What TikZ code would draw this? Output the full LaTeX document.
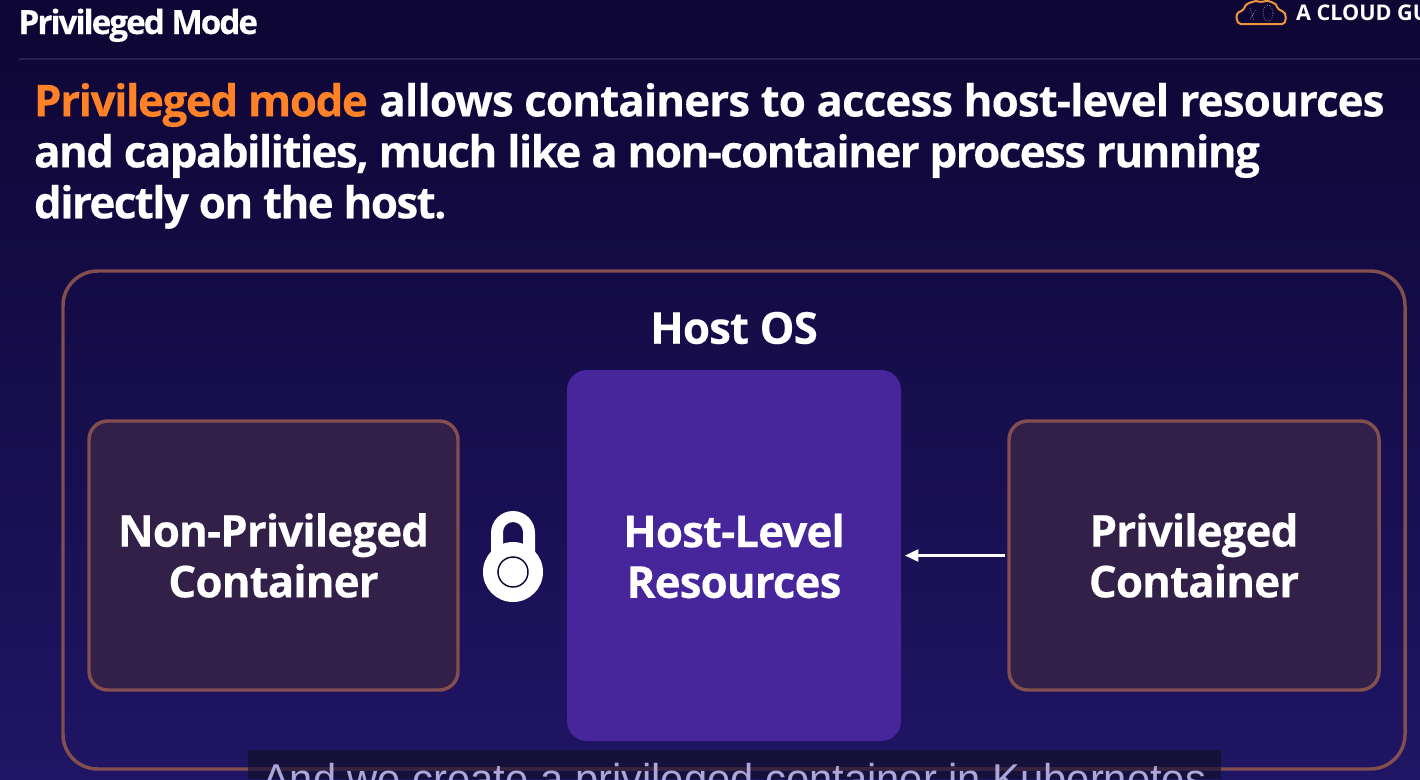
\documentclass[tikz,border=0pt]{standalone}
\usepackage{fontspec}
\setmainfont{Open Sans}
\newfontfamily\capfont{Liberation Sans}
\usetikzlibrary{arrows.meta,shapes.geometric}
\definecolor{bgtop}{RGB}{14,6,52}
\definecolor{bgbot}{RGB}{31,21,100}
\definecolor{edgebrown}{RGB}{130,78,78}
\definecolor{boxfill}{RGB}{50,32,72}
\definecolor{resfill}{RGB}{71,37,155}
\definecolor{orangetxt}{RGB}{255,130,40}
\definecolor{capbg}{RGB}{22,17,58}
\definecolor{captxt}{RGB}{172,166,218}
\definecolor{logoor}{RGB}{235,150,60}
\definecolor{rulec}{RGB}{40,32,84}
\newcommand{\tightbold}{\bfseries\addfontfeature{LetterSpace=-2.2,FakeBold=0.25}}
\newcommand{\hlsp}[2]{{\addfontfeature{LetterSpace=#1,FakeBold=0.25}#2}}
\tikzset{
  x=0.75pt,y=-0.75pt,
  every node/.style={outer sep=0pt},
  ctr/.style={rounded corners=14pt,draw=edgebrown,line width=2.6pt,fill=boxfill,anchor=north west,inner sep=0pt},
  lbl/.style={font=\fontsize{33}{38}\selectfont\tightbold,text=white,align=center},
  head/.style={font=\fontsize{33}{38.2}\selectfont\bfseries,text=white,align=left,anchor=north west,inner sep=0pt},
}
\begin{document}
\begin{tikzpicture}
\useasboundingbox (0,0) rectangle (1420,779);
\clip (0,0) rectangle (1420,779);
\shade[top color=bgtop,bottom color=bgbot] (0,0) rectangle (1420,779);
\fill[bgtop] (0,0) rectangle (1420,58);
\draw[rulec,line width=1.5pt] (19,59) -- (1420,59);
\node[anchor=base west,inner sep=0pt,text=white,font=\fontsize{25}{30}\selectfont\bfseries] (title) at (18.5,34) {\addfontfeature{LetterSpace=-6.2,FakeBold=0.3}Privileged Mode};
% logo
\draw[logoor,line width=1.5pt,rounded corners=4pt,fill=bgtop] (1246,24) .. controls (1236,24) and (1235,13) .. (1244,11) .. controls (1246,3) and (1256,1) .. (1261,3) .. controls (1268,0) and (1276,4) .. (1277,10) .. controls (1287,12) and (1287,24) .. (1277,24) -- cycle;
\draw[gray!70,line width=0.5pt,densely dotted] (1268,13) ellipse (5 and 8);
\draw[gray!70,line width=0.5pt,densely dotted] (1250,8) -- (1254,21) (1256,10) -- (1250,19);
\node[anchor=base west,inner sep=0pt,text=white,font=\fontsize{16.2}{19}\selectfont\bfseries] (brand) at (1296,20) {A CLOUD GU};
% heading
\node[head] (heading) at (34,83) {\hlsp{-3.4}{\textcolor{orangetxt}{Privileged mode}} \hlsp{-2.2}{allows containers to access host-level resources}\\\hlsp{-3.75}{and capabilities, much like a non-container process running}\\\hlsp{-3.75}{directly on the host.}};
% host
\node[draw=edgebrown,line width=2.6pt,rounded corners=26pt,anchor=north west,inner sep=0pt,minimum width=1006.5pt,minimum height=373.5pt] (host) at (63,271) {};
\node[lbl,anchor=center] (hostos) at (734,328) {Host OS};
\node[fill=resfill,rounded corners=15pt,anchor=north west,inner sep=0pt,minimum width=250.5pt,minimum height=278.25pt] (res) at (567,370) {};
\node[lbl] (reslbl) at (734,556) {Host-Level\\Resources};
\node[ctr,minimum width=276.75pt,minimum height=201.75pt] (np) at (89,421) {};
\node[lbl] (nplbl) at (np.center) {Non-Privileged\\Container};
\node[ctr,minimum width=277.5pt,minimum height=201.75pt] (pr) at (1009,421) {};
\node[lbl] (prlbl) at (pr.center) {Privileged\\Container};
\draw[white,line width=1.9pt,-{Triangle[length=10pt,width=9pt]}] ([xshift=-3pt]pr.west) -- ([xshift=3pt]res.east);
% lock
\fill[white,even odd rule] (491,560) -- (491,533) arc[start angle=180,end angle=360,radius=22] -- (535,560) -- cycle
  (503,548) -- (503,532) arc[start angle=180,end angle=360,radius=10] -- (523,548) -- cycle;
\fill[white] (513,572) circle[radius=30];
\draw[fill=white,draw=bgtop,line width=1.1pt] (513,572) circle[radius=15];
% caption
\fill[capbg] (248,750) rectangle (1221,779);
\draw[edgebrown,line width=2.4pt,opacity=.3] (248,769) -- (1221,769);
\node[anchor=base west,inner sep=0pt,text=captxt,font=\capfont\fontsize{31.3}{36}\selectfont] (caption) at (262,793) {And we create a privileged container in Kubernetes};
\end{tikzpicture}
\end{document}
